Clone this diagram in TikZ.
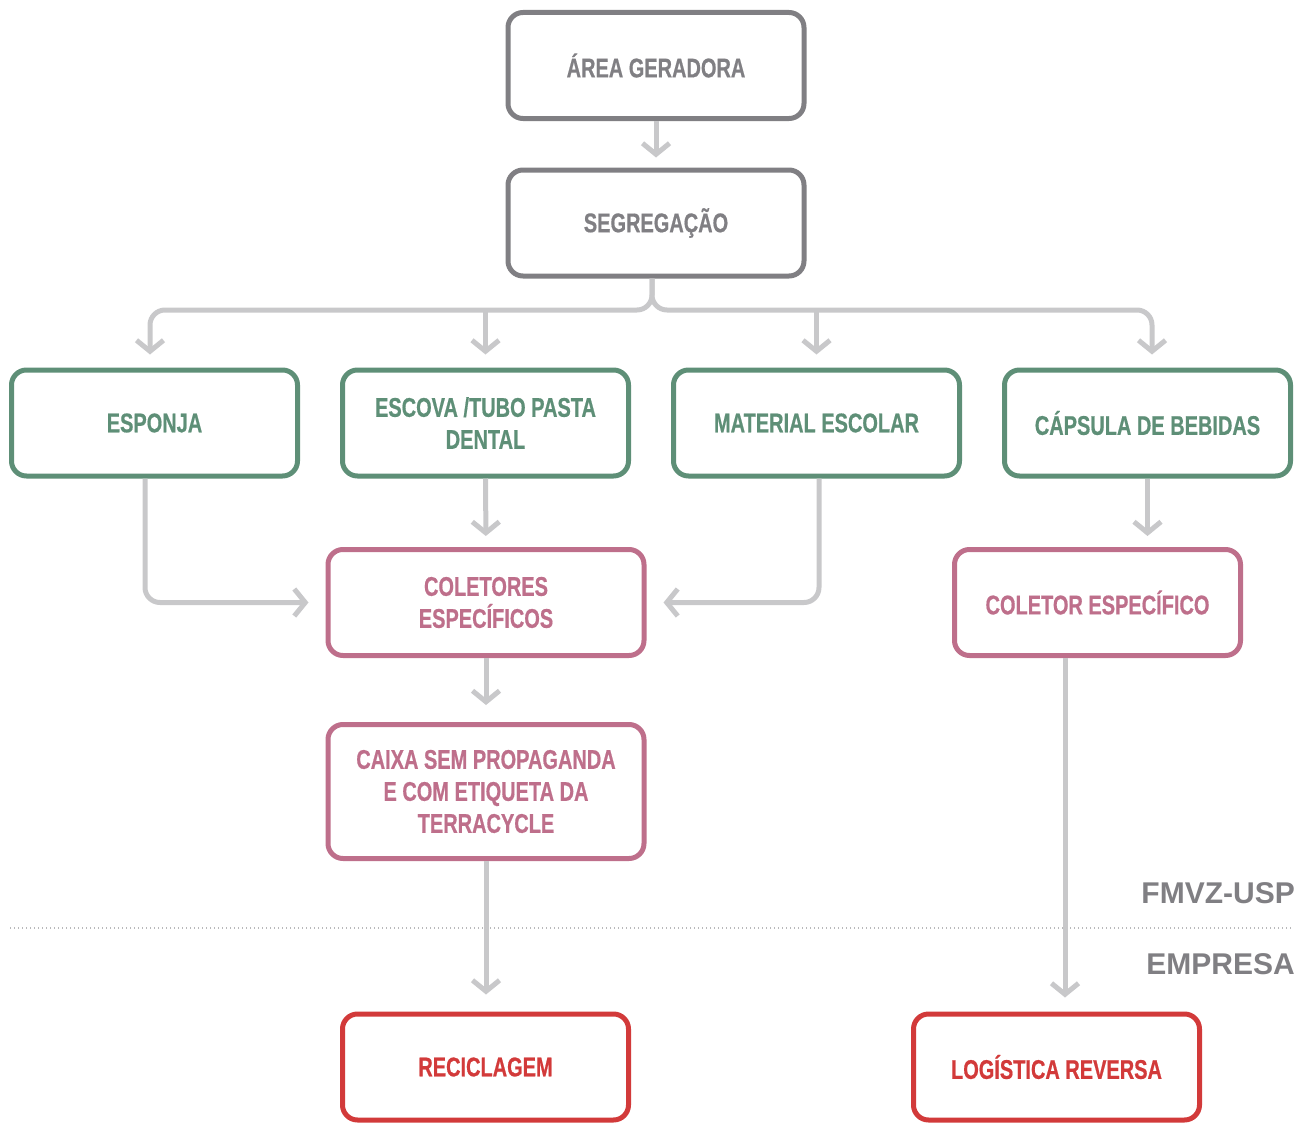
\documentclass[tikz,border=0pt]{standalone}
\usepackage{fontspec}
\newfontfamily\condfont[FakeStretch=0.74,FakeBold=0.6]{Liberation Sans Bold}
\newfontfamily\labfont{Liberation Sans Bold}
\usetikzlibrary{arrows.meta}
\definecolor{boxgray}{HTML}{807F83}
\definecolor{arrgray}{HTML}{C8C8CA}
\definecolor{boxgreen}{HTML}{5E8F77}
\definecolor{boxpink}{HTML}{BE6F8B}
\definecolor{boxred}{HTML}{D23A3A}
\tikzset{
  box/.style={draw, line width=5pt, rounded corners=15pt, align=center,
    font=\condfont\fontsize{27}{32}\selectfont, inner sep=0pt},
  graybox/.style={box, draw=boxgray, text=boxgray, minimum width=296pt, minimum height=106pt},
  greenbox/.style={box, draw=boxgreen, text=boxgreen, minimum width=286pt, minimum height=106pt},
  pinkbox/.style={box, draw=boxpink, text=boxpink},
  redbox/.style={box, draw=boxred, text=boxred, minimum width=286pt, minimum height=106pt},
  arr/.style={draw=arrgray, line width=5pt, -{Straight Barb[length=11pt,width=27pt]}},
  sidelabel/.style={text=boxgray, font=\labfont\fontsize{30}{34}\selectfont, anchor=east, inner sep=0pt}
}
\begin{document}
\begin{tikzpicture}[x=1pt,y=-1pt]
\useasboundingbox (0,0) rectangle (1307,1124);
% boxes
\node[graybox] (area) at (656,65.5) {ÁREA GERADORA};
\node[graybox] (seg) at (656,223) {SEGREGAÇÃO};
\node[greenbox] (esp) at (154.5,423) {ESPONJA};
\node[greenbox] (escova) at (485.5,423) {ESCOVA /TUBO PASTA\\DENTAL};
\node[greenbox] (mat) at (816.5,423) {MATERIAL ESCOLAR};
\node[greenbox] (cap) at (1147.5,423) {CÁPSULA DE BEBIDAS};
\node[pinkbox, minimum width=316pt, minimum height=106pt] (coletores) at (486,602.5) {COLETORES\\ESPECÍFICOS};
\node[pinkbox, minimum width=286pt, minimum height=106pt] (coletor) at (1097.5,602.5) {COLETOR ESPECÍFICO};
\node[pinkbox, minimum width=316pt, minimum height=134pt] (caixa) at (486,791.5) {CAIXA SEM PROPAGANDA\\E COM ETIQUETA DA\\TERRACYCLE};
\node[redbox] (recic) at (485.5,1067) {RECICLAGEM};
\node[redbox] (log) at (1056.5,1067) {LOGÍSTICA REVERSA};
% labels and divider
\node[sidelabel] (fmvz) at (1295,893) {FMVZ-USP};
\node[sidelabel] (emp) at (1295,964) {EMPRESA};
\coordinate (divL) at (10,928);
\coordinate (divR) at (1293,928);
\draw[arrgray!80!gray, line width=1.3pt, dash pattern=on 1.3pt off 2.7pt] (divL) -- (divR);
% connectors
\draw[arr, shorten >=10pt] (area) -- (seg);
\coordinate (bus) at (652,310);
\draw[arr, rounded corners=15pt, shorten >=13pt] ([xshift=-4pt]seg.south) |- ([xshift=-4.5pt]esp.north |- bus) -- ([xshift=-4.5pt]esp.north);
\draw[arr, rounded corners=15pt, shorten >=13pt] ([xshift=-4pt]seg.south) |- ([xshift=4.5pt]cap.north |- bus) -- ([xshift=4.5pt]cap.north);
\draw[arr, shorten >=13pt] (escova.north |- bus) -- (escova.north);
\draw[arr, shorten >=13pt] (mat.north |- bus) -- (mat.north);
\draw[arr, rounded corners=15pt, shorten >=17pt] ([xshift=-9.5pt]esp.south) |- (coletores.west);
\draw[arr, rounded corners=15pt, shorten >=17pt] ([xshift=2.5pt]mat.south) |- (coletores.east);
\draw[arr, shorten >=11pt] (escova) -- (coletores);
\draw[arr, shorten >=11pt] (cap) -- (coletor.north -| cap);
\draw[arr, shorten >=17pt] (coletores) -- (caixa);
\draw[arr, shorten >=17pt] (caixa) -- (recic.north -| caixa);
\draw[arr, shorten >=14pt] ([xshift=-32.5pt]coletor.south) -- ([xshift=8.5pt]log.north);
\end{tikzpicture}
\end{document}
